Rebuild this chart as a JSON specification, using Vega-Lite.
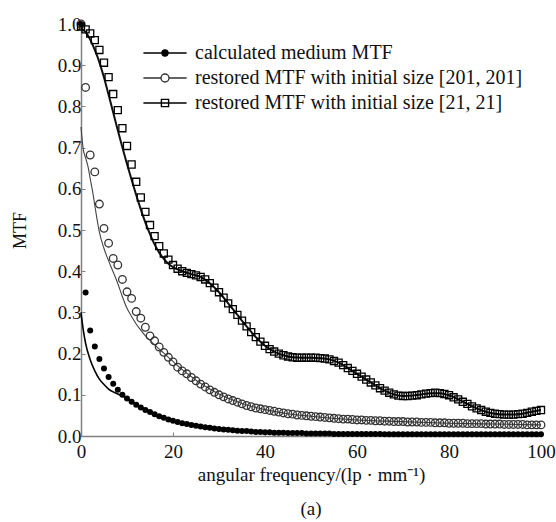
{
  "$schema": "https://vega.github.io/schema/vega-lite/v6.json",
  "width": 460,
  "height": 412,
  "autosize": {"type": "none"},
  "padding": {"left": 81, "top": 24, "right": 15, "bottom": 86},
  "background": "white",
  "config": {
    "view": {"stroke": null},
    "font": "Liberation Serif",
    "axis": {
      "grid": false,
      "domainColor": "#808080",
      "domainWidth": 1.5,
      "tickColor": "#808080",
      "tickSize": -4,
      "labelFont": "Liberation Serif",
      "titleFont": "Liberation Serif",
      "labelFontSize": 19,
      "titleFontSize": 19,
      "titleFontWeight": "normal",
      "labelColor": "#111",
      "titleColor": "#111",
      "labelFlush": false,
      "labelOverlap": false
    },
    "legend": {
      "orient": "none",
      "legendX": 74,
      "legendY": 19,
      "labelFont": "Liberation Serif",
      "labelFontSize": 20,
      "labelColor": "#111",
      "labelOffset": 20,
      "labelLimit": 500,
      "rowPadding": 5,
      "symbolSize": 64,
      "symbolStrokeWidth": 1.4
    }
  },
  "title": {"text": "(a)", "orient": "bottom", "fontSize": 19, "fontWeight": "normal", "font": "Liberation Serif", "color": "#111", "offset": 16},
  "datasets": {
    "lns": [
      {"s":"m","x":0,"y":0.30},{"s":"m","x":0.5,"y":0.257},{"s":"m","x":1,"y":0.225},{"s":"m","x":2,"y":0.185},{"s":"m","x":3,"y":0.158},{"s":"m","x":4,"y":0.138},{"s":"m","x":5,"y":0.125},{"s":"m","x":6,"y":0.114},{"s":"m","x":7,"y":0.107},{"s":"m","x":8,"y":0.102},{"s":"m","x":9,"y":0.097},{"s":"m","x":10,"y":0.091},{"s":"m","x":12,"y":0.077},{"s":"m","x":14,"y":0.064},{"s":"m","x":16,"y":0.054},{"s":"m","x":18,"y":0.045},{"s":"m","x":20,"y":0.038},{"s":"m","x":25,"y":0.025},{"s":"m","x":30,"y":0.017},{"s":"m","x":40,"y":0.009},{"s":"m","x":50,"y":0.006},{"s":"m","x":60,"y":0.005},{"s":"m","x":80,"y":0.004},{"s":"m","x":100,"y":0.004},
      {"s":"a","x":0,"y":0.75},{"s":"a","x":0.5,"y":0.695},{"s":"a","x":1,"y":0.675},{"s":"a","x":1.5,"y":0.655},{"s":"a","x":2,"y":0.625},{"s":"a","x":2.5,"y":0.595},{"s":"a","x":3,"y":0.56},{"s":"a","x":3.5,"y":0.525},{"s":"a","x":4,"y":0.495},{"s":"a","x":5,"y":0.455},{"s":"a","x":6,"y":0.425},{"s":"a","x":7,"y":0.398},{"s":"a","x":8,"y":0.37},{"s":"a","x":9,"y":0.338},{"s":"a","x":10,"y":0.31},{"s":"a","x":11,"y":0.29},{"s":"a","x":12,"y":0.272},{"s":"a","x":13,"y":0.257},{"s":"a","x":14,"y":0.243},{"s":"a","x":15,"y":0.232},{"s":"a","x":16,"y":0.221},{"s":"a","x":18,"y":0.201},{"s":"a","x":20,"y":0.181},{"s":"a","x":22,"y":0.161},{"s":"a","x":24,"y":0.144},{"s":"a","x":26,"y":0.128},{"s":"a","x":28,"y":0.114},{"s":"a","x":30,"y":0.102},{"s":"a","x":35,"y":0.079},{"s":"a","x":40,"y":0.064},{"s":"a","x":45,"y":0.054},{"s":"a","x":50,"y":0.048},{"s":"a","x":60,"y":0.039},{"s":"a","x":70,"y":0.035},{"s":"a","x":80,"y":0.031},{"s":"a","x":90,"y":0.029},{"s":"a","x":100,"y":0.027},
      {"s":"b","x":0,"y":0.99},{"s":"b","x":1,"y":0.98},{"s":"b","x":2,"y":0.962},{"s":"b","x":3,"y":0.937},{"s":"b","x":4,"y":0.907},{"s":"b","x":5,"y":0.87},{"s":"b","x":6,"y":0.828},{"s":"b","x":7,"y":0.785},{"s":"b","x":8,"y":0.742},{"s":"b","x":9,"y":0.70},{"s":"b","x":10,"y":0.66},{"s":"b","x":11,"y":0.622},{"s":"b","x":12,"y":0.585},{"s":"b","x":13,"y":0.55},{"s":"b","x":14,"y":0.518},{"s":"b","x":15,"y":0.49},{"s":"b","x":16,"y":0.465},{"s":"b","x":17,"y":0.445},{"s":"b","x":18,"y":0.43},{"s":"b","x":19,"y":0.418},{"s":"b","x":20,"y":0.41},{"s":"b","x":22,"y":0.40},{"s":"b","x":24,"y":0.393},{"s":"b","x":26,"y":0.386},{"s":"b","x":28,"y":0.371},{"s":"b","x":30,"y":0.349},{"s":"b","x":32,"y":0.322},{"s":"b","x":34,"y":0.294},{"s":"b","x":36,"y":0.266},{"s":"b","x":38,"y":0.240},{"s":"b","x":40,"y":0.219},{"s":"b","x":42,"y":0.205},{"s":"b","x":44,"y":0.196},{"s":"b","x":46,"y":0.191},{"s":"b","x":48,"y":0.190},{"s":"b","x":50,"y":0.190},{"s":"b","x":52,"y":0.189},{"s":"b","x":54,"y":0.186},{"s":"b","x":56,"y":0.178},{"s":"b","x":58,"y":0.165},{"s":"b","x":60,"y":0.151},{"s":"b","x":62,"y":0.137},{"s":"b","x":64,"y":0.123},{"s":"b","x":66,"y":0.110},{"s":"b","x":68,"y":0.101},{"s":"b","x":70,"y":0.097},{"s":"b","x":72,"y":0.098},{"s":"b","x":74,"y":0.101},{"s":"b","x":76,"y":0.104},{"s":"b","x":78,"y":0.104},{"s":"b","x":80,"y":0.099},{"s":"b","x":82,"y":0.089},{"s":"b","x":84,"y":0.078},{"s":"b","x":86,"y":0.067},{"s":"b","x":88,"y":0.059},{"s":"b","x":90,"y":0.054},{"s":"b","x":92,"y":0.052},{"s":"b","x":94,"y":0.052},{"s":"b","x":96,"y":0.054},{"s":"b","x":98,"y":0.059},{"s":"b","x":100,"y":0.063}
    ],
    "pts": [
      {"x":0,"m":1.0,"a":1.0,"b":0.994},
      {"x":1,"m":0.348,"a":0.846,"b":0.987},
      {"x":2,"m":0.256,"a":0.682,"b":0.977},
      {"x":3,"m":0.217,"a":0.641,"b":0.961},
      {"x":4,"m":0.187,"a":0.563,"b":0.937},
      {"x":5,"m":0.164,"a":0.504,"b":0.906},
      {"x":6,"m":0.143,"a":0.468,"b":0.871},
      {"x":7,"m":0.127,"a":0.431,"b":0.830},
      {"x":8,"m":0.112,"a":0.415,"b":0.791},
      {"x":9,"m":0.100,"a":0.380,"b":0.747},
      {"x":10,"m":0.091,"a":0.350,"b":0.704},
      {"x":11,"m":0.083,"a":0.334,"b":0.659},
      {"x":12,"m":0.076,"a":0.302,"b":0.617},
      {"x":13,"m":0.069,"a":0.286,"b":0.579},
      {"x":14,"m":0.063,"a":0.264,"b":0.544},
      {"x":15,"m":0.058,"a":0.243,"b":0.512},
      {"x":16,"m":0.053,"a":0.231,"b":0.485},
      {"x":17,"m":0.048,"a":0.216,"b":0.461},
      {"x":18,"m":0.044,"a":0.203,"b":0.443},
      {"x":19,"m":0.040,"a":0.191,"b":0.428},
      {"x":20,"m":0.037,"a":0.180,"b":0.415},
      {"x":21,"m":0.034,"a":0.167,"b":0.406},
      {"x":22,"m":0.031,"a":0.158,"b":0.400},
      {"x":23,"m":0.029,"a":0.151,"b":0.396},
      {"x":24,"m":0.027,"a":0.142,"b":0.393},
      {"x":25,"m":0.025,"a":0.134,"b":0.390},
      {"x":26,"m":0.023,"a":0.126,"b":0.386},
      {"x":27,"m":0.021,"a":0.119,"b":0.380},
      {"x":28,"m":0.020,"a":0.112,"b":0.371},
      {"x":29,"m":0.018,"a":0.106,"b":0.360},
      {"x":30,"m":0.017,"a":0.100,"b":0.349},
      {"x":31,"m":0.016,"a":0.095,"b":0.336},
      {"x":32,"m":0.015,"a":0.090,"b":0.322},
      {"x":33,"m":0.014,"a":0.086,"b":0.308},
      {"x":34,"m":0.013,"a":0.082,"b":0.294},
      {"x":35,"m":0.012,"a":0.078,"b":0.280},
      {"x":36,"m":0.012,"a":0.074,"b":0.266},
      {"x":37,"m":0.011,"a":0.071,"b":0.252},
      {"x":38,"m":0.010,"a":0.068,"b":0.240},
      {"x":39,"m":0.010,"a":0.066,"b":0.229},
      {"x":40,"m":0.009,"a":0.064,"b":0.219},
      {"x":41,"m":0.009,"a":0.062,"b":0.211},
      {"x":42,"m":0.008,"a":0.060,"b":0.205},
      {"x":43,"m":0.008,"a":0.058,"b":0.200},
      {"x":44,"m":0.008,"a":0.056,"b":0.196},
      {"x":45,"m":0.007,"a":0.054,"b":0.193},
      {"x":46,"m":0.007,"a":0.053,"b":0.191},
      {"x":47,"m":0.007,"a":0.051,"b":0.190},
      {"x":48,"m":0.007,"a":0.050,"b":0.190},
      {"x":49,"m":0.006,"a":0.049,"b":0.190},
      {"x":50,"m":0.006,"a":0.048,"b":0.190},
      {"x":51,"m":0.006,"a":0.047,"b":0.190},
      {"x":52,"m":0.006,"a":0.046,"b":0.189},
      {"x":53,"m":0.006,"a":0.045,"b":0.188},
      {"x":54,"m":0.006,"a":0.044,"b":0.186},
      {"x":55,"m":0.005,"a":0.043,"b":0.182},
      {"x":56,"m":0.005,"a":0.042,"b":0.178},
      {"x":57,"m":0.005,"a":0.041,"b":0.172},
      {"x":58,"m":0.005,"a":0.041,"b":0.165},
      {"x":59,"m":0.005,"a":0.040,"b":0.158},
      {"x":60,"m":0.005,"a":0.039,"b":0.151},
      {"x":61,"m":0.005,"a":0.039,"b":0.144},
      {"x":62,"m":0.005,"a":0.038,"b":0.137},
      {"x":63,"m":0.005,"a":0.038,"b":0.130},
      {"x":64,"m":0.005,"a":0.037,"b":0.123},
      {"x":65,"m":0.005,"a":0.037,"b":0.116},
      {"x":66,"m":0.004,"a":0.036,"b":0.110},
      {"x":67,"m":0.004,"a":0.036,"b":0.105},
      {"x":68,"m":0.004,"a":0.035,"b":0.101},
      {"x":69,"m":0.004,"a":0.035,"b":0.098},
      {"x":70,"m":0.004,"a":0.035,"b":0.097},
      {"x":71,"m":0.004,"a":0.034,"b":0.097},
      {"x":72,"m":0.004,"a":0.034,"b":0.098},
      {"x":73,"m":0.004,"a":0.034,"b":0.099},
      {"x":74,"m":0.004,"a":0.033,"b":0.101},
      {"x":75,"m":0.004,"a":0.033,"b":0.103},
      {"x":76,"m":0.004,"a":0.033,"b":0.104},
      {"x":77,"m":0.004,"a":0.032,"b":0.105},
      {"x":78,"m":0.004,"a":0.032,"b":0.104},
      {"x":79,"m":0.004,"a":0.032,"b":0.102},
      {"x":80,"m":0.004,"a":0.031,"b":0.099},
      {"x":81,"m":0.004,"a":0.031,"b":0.094},
      {"x":82,"m":0.004,"a":0.031,"b":0.089},
      {"x":83,"m":0.004,"a":0.031,"b":0.083},
      {"x":84,"m":0.004,"a":0.030,"b":0.078},
      {"x":85,"m":0.004,"a":0.030,"b":0.072},
      {"x":86,"m":0.004,"a":0.030,"b":0.067},
      {"x":87,"m":0.004,"a":0.030,"b":0.063},
      {"x":88,"m":0.004,"a":0.029,"b":0.059},
      {"x":89,"m":0.004,"a":0.029,"b":0.056},
      {"x":90,"m":0.004,"a":0.029,"b":0.054},
      {"x":91,"m":0.004,"a":0.029,"b":0.053},
      {"x":92,"m":0.004,"a":0.028,"b":0.052},
      {"x":93,"m":0.004,"a":0.028,"b":0.052},
      {"x":94,"m":0.004,"a":0.028,"b":0.052},
      {"x":95,"m":0.004,"a":0.028,"b":0.053},
      {"x":96,"m":0.004,"a":0.028,"b":0.054},
      {"x":97,"m":0.004,"a":0.027,"b":0.056},
      {"x":98,"m":0.004,"a":0.027,"b":0.059},
      {"x":99,"m":0.004,"a":0.027,"b":0.061},
      {"x":100,"m":0.004,"a":0.027,"b":0.063}
    ]
  },
  "encoding": {
    "x": {
      "field": "x", "type": "quantitative",
      "scale": {"domain": [0, 100], "nice": false},
      "axis": {"values": [0, 20, 40, 60, 80, 100], "title": "angular frequency/(lp · mm⁻¹)", "labelPadding": 10, "titlePadding": 4}
    },
    "y": {
      "field": "y", "type": "quantitative",
      "scale": {"domain": [0, 1], "nice": false},
      "axis": {"values": [0, 0.1, 0.2, 0.3, 0.4, 0.5, 0.6, 0.7, 0.8, 0.9, 1.0], "format": ".1f", "title": "MTF", "titleFontSize": 18, "labelPadding": 4, "titlePadding": 28}
    }
  },
  "layer": [
    {"data": {"name": "lns"}, "transform": [{"filter": "datum.s === 'm'"}], "mark": {"type": "line", "interpolate": "monotone", "color": "#000000", "strokeWidth": 1.6}, "encoding": {}},
    {"data": {"name": "lns"}, "transform": [{"filter": "datum.s === 'a'"}], "mark": {"type": "line", "interpolate": "monotone", "color": "#444444", "strokeWidth": 1.1}, "encoding": {}},
    {"data": {"name": "lns"}, "transform": [{"filter": "datum.s === 'b'"}], "mark": {"type": "line", "interpolate": "monotone", "color": "#111111", "strokeWidth": 2.0}, "encoding": {}},
    {"data": {"name": "pts"}, "transform": [{"fold": ["m", "a", "b"], "as": ["s", "y"]}, {"filter": "datum.s === 'm'"}], "mark": {"type": "point", "shape": "circle", "filled": true, "color": "#000000", "size": 36, "opacity": 1}, "encoding": {}},
    {"data": {"name": "pts"}, "transform": [{"fold": ["m", "a", "b"], "as": ["s", "y"]}, {"filter": "datum.s === 'a'"}], "mark": {"type": "point", "shape": "circle", "filled": false, "stroke": "#333333", "fill": "transparent", "size": 58, "strokeWidth": 1.3, "opacity": 1}, "encoding": {}},
    {"data": {"name": "pts"}, "transform": [{"fold": ["m", "a", "b"], "as": ["s", "y"]}, {"filter": "datum.s === 'b'"}], "mark": {"type": "point", "shape": "square", "filled": false, "stroke": "#000000", "fill": "transparent", "size": 50, "strokeWidth": 1.3, "opacity": 1}, "encoding": {}},
    {
      "data": {"values": []},
      "mark": {"type": "point", "size": 64, "strokeWidth": 1.4, "opacity": 1},
      "encoding": {
        "shape": {
          "field": "s", "type": "nominal",
          "scale": {"domain": ["m", "a", "b"], "range": [
            "M-5.4,0L5.4,0M0.75,0A0.75,0.75,0,1,1,-0.75,0A0.75,0.75,0,1,1,0.75,0Z",
            "M-5.4,0L-1,0M1,0L5.4,0M1,0A1,1,0,1,1,-1,0A1,1,0,1,1,1,0Z",
            "M-5.4,0L5.4,0M-0.9,-0.9L0.9,-0.9L0.9,0.9L-0.9,0.9Z"
          ]},
          "legend": {"title": null, "labelExpr": "datum.value === 'm' ? 'calculated medium MTF' : datum.value === 'a' ? 'restored MTF with initial size [201, 201]' : 'restored MTF with initial size [21, 21]'"}
        },
        "fill": {
          "field": "s", "type": "nominal",
          "scale": {"domain": ["m", "a", "b"], "range": ["#000000", "transparent", "transparent"]},
          "legend": {"title": null, "labelExpr": "datum.value === 'm' ? 'calculated medium MTF' : datum.value === 'a' ? 'restored MTF with initial size [201, 201]' : 'restored MTF with initial size [21, 21]'"}
        },
        "stroke": {
          "field": "s", "type": "nominal",
          "scale": {"domain": ["m", "a", "b"], "range": ["#000000", "#333333", "#000000"]},
          "legend": {"title": null, "labelExpr": "datum.value === 'm' ? 'calculated medium MTF' : datum.value === 'a' ? 'restored MTF with initial size [201, 201]' : 'restored MTF with initial size [21, 21]'"}
        }
      }
    }
  ]
}
